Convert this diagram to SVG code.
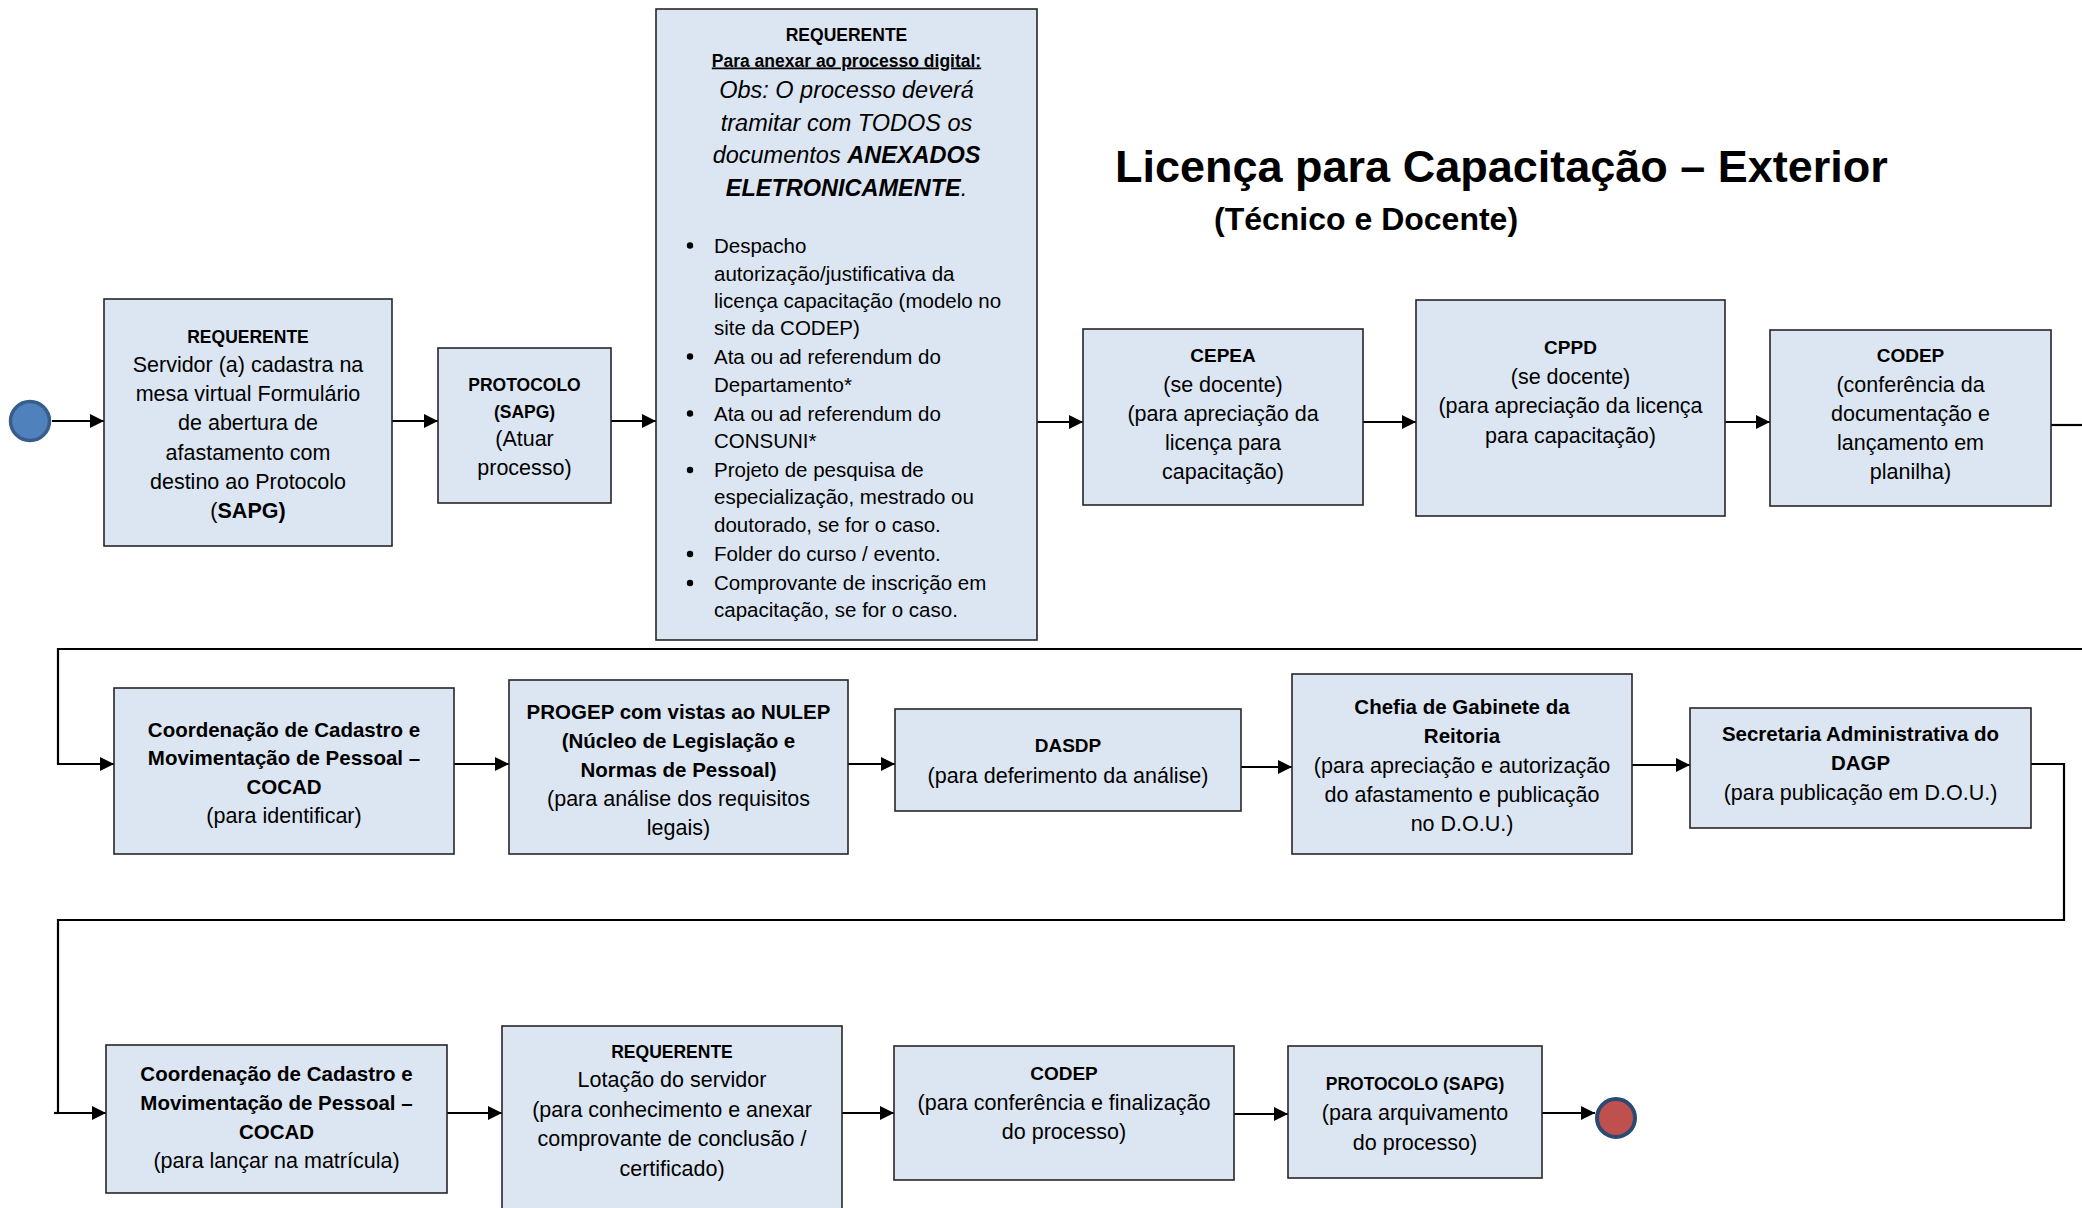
<svg xmlns="http://www.w3.org/2000/svg" width="2082" height="1208" viewBox="0 0 2082 1208">
<defs>
<style>
text{font-family:"Liberation Sans",Arial,sans-serif;fill:#000;text-anchor:middle}
.box{fill:#dce6f2;stroke:#262626;stroke-width:1.6}
.h{font-weight:bold;font-size:17.5px}
.hm{font-weight:bold;font-size:19px}
.hb{font-weight:bold;font-size:20.5px}
.t{font-size:21.5px}
.it{font-style:italic;font-size:23.5px}
.bl{font-size:20.5px;text-anchor:start}
.b{font-weight:bold}
.con{fill:none;stroke:#000;stroke-width:2.2}
.arr{marker-end:url(#ah)}
</style>
<marker id="ah" markerUnits="userSpaceOnUse" markerWidth="14" markerHeight="14" refX="14" refY="7" orient="auto">
<path d="M0,0 L14,7 L0,14 Z" fill="#000"/>
</marker>
</defs>
<rect width="2082" height="1208" fill="#fff"/>

<g id="title">
<text x="1115" y="182" style="text-anchor:start;font-weight:bold;font-size:45px">Licença para Capacitação – Exterior</text>
<text x="1214" y="230" style="text-anchor:start;font-weight:bold;font-size:32px">(Técnico e Docente)</text>
</g>

<g id="connectors">
<path class="con arr" d="M52,421 H104"/>
<path class="con arr" d="M392,421 H438"/>
<path class="con arr" d="M611,421 H656"/>
<path class="con arr" d="M1037,422 H1083"/>
<path class="con arr" d="M1363,422 H1416"/>
<path class="con arr" d="M1725,422 H1770"/>
<path class="con" d="M2051,425 H2082"/>
<path class="con arr" d="M2082,649 H58 V764 H114"/>
<path class="con arr" d="M454,764 H509"/>
<path class="con arr" d="M848,764 H895"/>
<path class="con arr" d="M1241,767 H1292"/>
<path class="con arr" d="M1632,765 H1690"/>
<path class="con arr" d="M2031,764 H2064 V920 H58 V1113 H106"/>
<path class="con" d="M54,1113 H58"/>
<path class="con arr" d="M447,1113 H502"/>
<path class="con arr" d="M842,1113 H894"/>
<path class="con arr" d="M1234,1114 H1288"/>
<path class="con arr" d="M1542,1113 H1595"/>
</g>

<g id="start">
<circle cx="30" cy="421" r="19.5" fill="#4f81bd" stroke="#385d8a" stroke-width="3.5"/>
</g>

<g id="n1">
<rect class="box" x="104" y="299" width="288" height="247"/>
<text class="h" x="248" y="342.5">REQUERENTE</text>
<text class="t" x="248" y="372">Servidor (a) cadastra na</text>
<text class="t" x="248" y="401">mesa virtual Formulário</text>
<text class="t" x="248" y="430">de abertura de</text>
<text class="t" x="248" y="460">afastamento com</text>
<text class="t" x="248" y="489">destino ao Protocolo</text>
<text class="t" x="248" y="518">(<tspan class="b">SAPG)</tspan></text>
</g>

<g id="n2">
<rect class="box" x="438" y="348" width="173" height="155"/>
<text class="h" x="524.5" y="391">PROTOCOLO</text>
<text class="h" x="524.5" y="417.5">(SAPG)</text>
<text class="t" x="524.5" y="446">(Atuar</text>
<text class="t" x="524.5" y="475">processo)</text>
</g>

<g id="n3">
<rect class="box" x="656" y="9" width="381" height="631"/>
<text class="h" x="846.5" y="40.5">REQUERENTE</text>
<text class="h" x="846.5" y="66.5" text-decoration="underline">Para anexar ao processo digital:</text>
<text class="it" x="846.5" y="98">Obs: O processo deverá</text>
<text class="it" x="846.5" y="130.5">tramitar com TODOS os</text>
<text class="it" x="846.5" y="163">documentos <tspan class="b">ANEXADOS</tspan></text>
<text class="it" x="846.5" y="196"><tspan class="b">ELETRONICAMENTE</tspan>.</text>
<g fill="#000">
<circle cx="690" cy="245.5" r="3.2"/>
<circle cx="690" cy="356.5" r="3.2"/>
<circle cx="690" cy="413.5" r="3.2"/>
<circle cx="690" cy="470" r="3.2"/>
<circle cx="690" cy="554" r="3.2"/>
<circle cx="690" cy="583" r="3.2"/>
</g>
<text class="bl" x="714" y="252.5">Despacho</text>
<text class="bl" x="714" y="280.5">autorização/justificativa da</text>
<text class="bl" x="714" y="307.5">licença capacitação (modelo no</text>
<text class="bl" x="714" y="334.5">site da CODEP)</text>
<text class="bl" x="714" y="363.5">Ata ou ad referendum do</text>
<text class="bl" x="714" y="391.5">Departamento*</text>
<text class="bl" x="714" y="420.5">Ata ou ad referendum do</text>
<text class="bl" x="714" y="447.5">CONSUNI*</text>
<text class="bl" x="714" y="477">Projeto de pesquisa de</text>
<text class="bl" x="714" y="504">especialização, mestrado ou</text>
<text class="bl" x="714" y="532">doutorado, se for o caso.</text>
<text class="bl" x="714" y="561">Folder do curso / evento.</text>
<text class="bl" x="714" y="590">Comprovante de inscrição em</text>
<text class="bl" x="714" y="616.5">capacitação, se for o caso.</text>
</g>

<g id="n4">
<rect class="box" x="1083" y="329" width="280" height="176"/>
<text class="hm" x="1223" y="362">CEPEA</text>
<text class="t" x="1223" y="391.5">(se docente)</text>
<text class="t" x="1223" y="420.5">(para apreciação da</text>
<text class="t" x="1223" y="450">licença para</text>
<text class="t" x="1223" y="479">capacitação)</text>
</g>

<g id="n5">
<rect class="box" x="1416" y="300" width="309" height="216"/>
<text class="hm" x="1570.5" y="354">CPPD</text>
<text class="t" x="1570.5" y="383.5">(se docente)</text>
<text class="t" x="1570.5" y="413">(para apreciação da licença</text>
<text class="t" x="1570.5" y="442.5">para capacitação)</text>
</g>

<g id="n6">
<rect class="box" x="1770" y="330" width="281" height="176"/>
<text class="hm" x="1910.5" y="362">CODEP</text>
<text class="t" x="1910.5" y="392">(conferência da</text>
<text class="t" x="1910.5" y="421">documentação e</text>
<text class="t" x="1910.5" y="450">lançamento em</text>
<text class="t" x="1910.5" y="479">planilha)</text>
</g>

<g id="n7">
<rect class="box" x="114" y="688" width="340" height="166"/>
<text class="hb" x="284" y="736.5">Coordenação de Cadastro e</text>
<text class="hb" x="284" y="765">Movimentação de Pessoal –</text>
<text class="hb" x="284" y="793.5">COCAD</text>
<text class="t" x="284" y="823">(para identificar)</text>
</g>

<g id="n8">
<rect class="box" x="509" y="680" width="339" height="174"/>
<text class="hb" x="678.5" y="718.5">PROGEP com vistas ao NULEP</text>
<text class="hb" x="678.5" y="747.5">(Núcleo de Legislação e</text>
<text class="hb" x="678.5" y="776.5">Normas de Pessoal)</text>
<text class="t" x="678.5" y="806">(para análise dos requisitos</text>
<text class="t" x="678.5" y="834.5">legais)</text>
</g>

<g id="n9">
<rect class="box" x="895" y="709" width="346" height="102"/>
<text class="hm" x="1068" y="752">DASDP</text>
<text class="t" x="1068" y="782.5">(para deferimento da análise)</text>
</g>

<g id="n10">
<rect class="box" x="1292" y="674" width="340" height="180"/>
<text class="hb" x="1462" y="714">Chefia de Gabinete da</text>
<text class="hb" x="1462" y="743">Reitoria</text>
<text class="t" x="1462" y="773">(para apreciação e autorização</text>
<text class="t" x="1462" y="802">do afastamento e publicação</text>
<text class="t" x="1462" y="831">no D.O.U.)</text>
</g>

<g id="n11">
<rect class="box" x="1690" y="708" width="341" height="120"/>
<text class="hb" x="1860.5" y="741">Secretaria Administrativa do</text>
<text class="hb" x="1860.5" y="769.5">DAGP</text>
<text class="t" x="1860.5" y="799.5">(para publicação em D.O.U.)</text>
</g>

<g id="n12">
<rect class="box" x="106" y="1045" width="341" height="148"/>
<text class="hb" x="276.5" y="1080.5">Coordenação de Cadastro e</text>
<text class="hb" x="276.5" y="1109.5">Movimentação de Pessoal –</text>
<text class="hb" x="276.5" y="1138.5">COCAD</text>
<text class="t" x="276.5" y="1168">(para lançar na matrícula)</text>
</g>

<g id="n13">
<rect class="box" x="502" y="1026" width="340" height="200"/>
<text class="h" x="672" y="1058">REQUERENTE</text>
<text class="t" x="672" y="1087">Lotação do servidor</text>
<text class="t" x="672" y="1116.5">(para conhecimento e anexar</text>
<text class="t" x="672" y="1146">comprovante de conclusão /</text>
<text class="t" x="672" y="1175.5">certificado)</text>
</g>

<g id="n14">
<rect class="box" x="894" y="1046" width="340" height="134"/>
<text class="hm" x="1064" y="1080">CODEP</text>
<text class="t" x="1064" y="1110">(para conferência e finalização</text>
<text class="t" x="1064" y="1139">do processo)</text>
</g>

<g id="n15">
<rect class="box" x="1288" y="1046" width="254" height="132"/>
<text class="h" x="1415" y="1090">PROTOCOLO (SAPG)</text>
<text class="t" x="1415" y="1120">(para arquivamento</text>
<text class="t" x="1415" y="1149.5">do processo)</text>
</g>

<g id="end">
<circle cx="1616" cy="1118" r="19" fill="#c0504d" stroke="#2a4a72" stroke-width="4"/>
</g>
</svg>
